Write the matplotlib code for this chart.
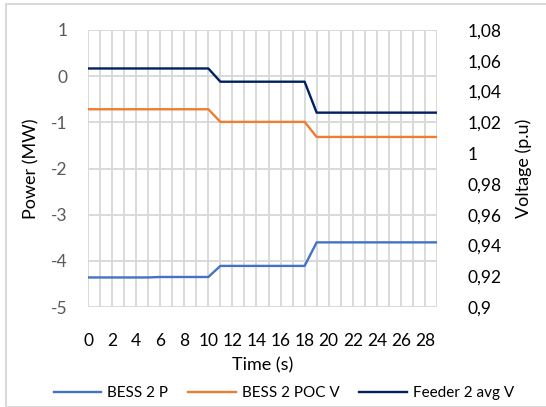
import matplotlib.pyplot as plt
from matplotlib.ticker import FuncFormatter, MultipleLocator
from matplotlib.patches import Rectangle

plt.rcParams['font.family'] = ['Lato', 'DejaVu Sans']
plt.rcParams['axes.unicode_minus'] = False

# time axis (s)
time = [0, 1, 2, 3, 4, 5, 6, 7, 8, 9, 10, 11, 12, 13, 14,
        15, 16, 17, 18, 19, 20, 21, 22, 23, 24, 25, 26, 27, 28, 29]

# BESS 2 active power (MW) - left axis
bess_p = [-4.36, -4.36, -4.36, -4.36, -4.36, -4.36, -4.35, -4.35, -4.35, -4.35,
          -4.35, -4.11, -4.11, -4.11, -4.11, -4.11, -4.11, -4.11, -4.11, -3.60,
          -3.60, -3.60, -3.60, -3.60, -3.60, -3.60, -3.60, -3.60, -3.60, -3.60]

# voltages (p.u) - right axis
poc_v = [1.0285, 1.0285, 1.0285, 1.0285, 1.0285, 1.0285, 1.0285, 1.0285, 1.0285, 1.0285,
         1.0285, 1.0203, 1.0203, 1.0203, 1.0203, 1.0203, 1.0203, 1.0203, 1.0203, 1.0105,
         1.0105, 1.0105, 1.0105, 1.0105, 1.0105, 1.0105, 1.0105, 1.0105, 1.0105, 1.0105]
feeder_v = [1.055, 1.055, 1.055, 1.055, 1.055, 1.055, 1.055, 1.055, 1.055, 1.055,
            1.055, 1.0464, 1.0464, 1.0464, 1.0464, 1.0464, 1.0464, 1.0464, 1.0464, 1.0263,
            1.0263, 1.0263, 1.0263, 1.0263, 1.0263, 1.0263, 1.0263, 1.0263, 1.0263, 1.0263]

xticks = [0, 2, 4, 6, 8, 10, 12, 14, 16, 18, 20, 22, 24, 26, 28]

txt = '#595959'
grid = '#D9D9D9'

fig = plt.figure(figsize=(5.46, 4.07), dpi=100)
ax = fig.add_axes([88 / 546, 1 - 307 / 407, (437 - 88) / 546, (307 - 30) / 407])
ax2 = ax.twinx()

l1, = ax.plot(time, bess_p, color='#4472C4', lw=1.7, label='BESS 2 P')
l2, = ax2.plot(time, poc_v, color='#ED7D31', lw=1.7, label='BESS 2 POC V')
l3, = ax2.plot(time, feeder_v, color='#002060', lw=1.7, label='Feeder 2 avg V')

ax.set_xlim(0, 29)
ax.set_ylim(-5, 1)
ax2.set_ylim(0.9, 1.08)
ax.set_xticks(xticks)
ax.xaxis.set_minor_locator(MultipleLocator(1))
ax.yaxis.set_major_locator(MultipleLocator(1))
ax2.yaxis.set_major_locator(MultipleLocator(0.02))

ax.grid(True, which='both', axis='x', color=grid, lw=1.4)
ax.grid(True, which='major', axis='y', color=grid, lw=1.4)
ax.set_axisbelow(True)

for a in (ax, ax2):
    for s in a.spines.values():
        s.set_visible(False)

ax.tick_params(axis='x', which='both', length=0, pad=19, labelsize=12.5, labelcolor='black')
ax.tick_params(axis='y', length=0, pad=15, labelsize=12.5, labelcolor=txt)
ax2.tick_params(axis='y', length=0, pad=22, labelsize=12.5, labelcolor='black')


def comma(v, pos):
    s = ('%.2f' % v).rstrip('0').rstrip('.')
    return s.replace('.', ',')


ax2.yaxis.set_major_formatter(FuncFormatter(comma))

ax.set_xlabel('Time (s)', fontsize=13, labelpad=6)
ax.set_ylabel('Power (MW)', fontsize=13, labelpad=8)
ax2.set_ylabel('Voltage (p.u)', fontsize=13, labelpad=10)

fig.legend(handles=[l1, l2, l3], loc='center', bbox_to_anchor=(0.52, 1 - 393 / 407),
           ncol=3, frameon=False, fontsize=11, handlelength=3.1,
           handletextpad=0.4, columnspacing=1.3)

fig.patches.append(Rectangle((6 / 546, 0), 1, 1 - 4 / 407, transform=fig.transFigure,
                             fill=False, edgecolor=grid, lw=1.5))

fig.savefig('out.png', dpi=100)
